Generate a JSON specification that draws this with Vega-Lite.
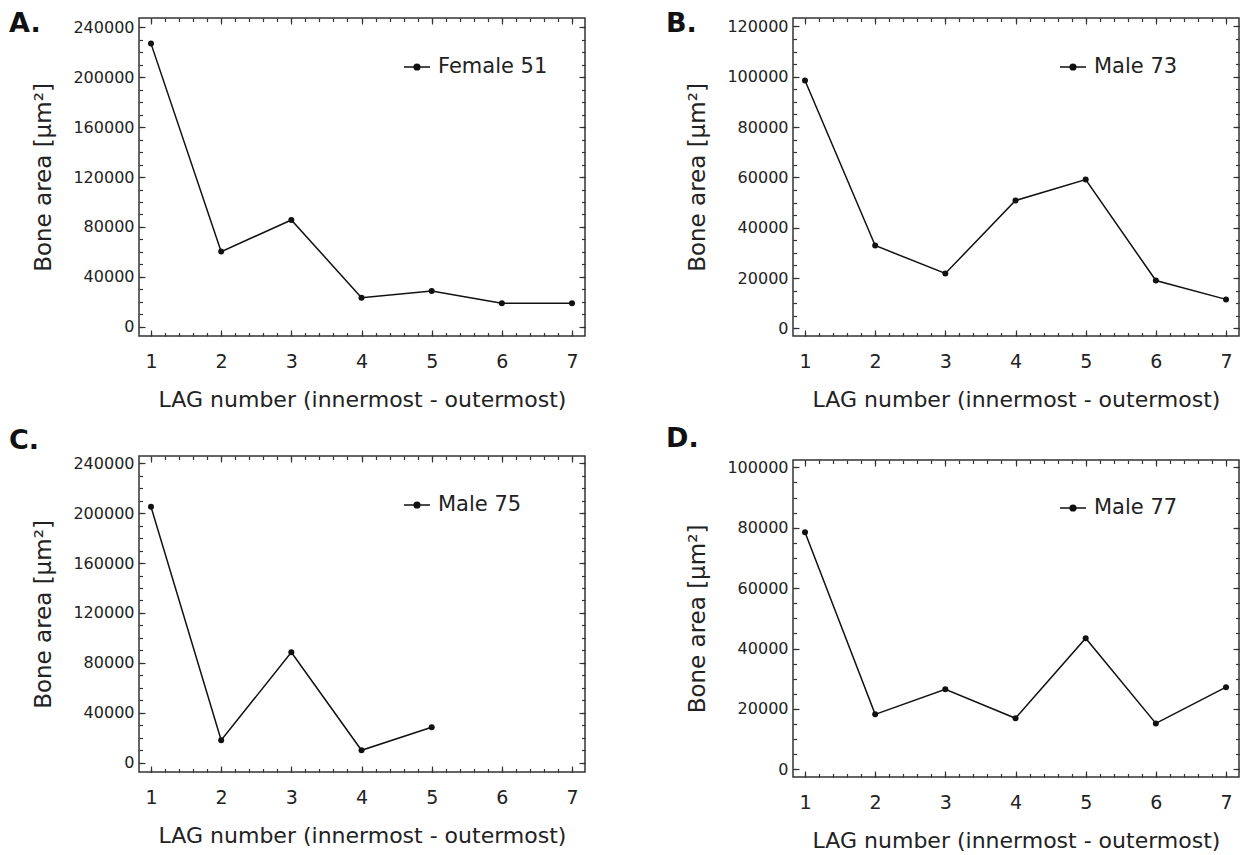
{
  "$schema": "https://vega.github.io/schema/vega-lite/v6.json",
  "background": "white",
  "padding": {"left": 8, "top": 9, "right": 5, "bottom": 5},
  "datasets": {
    "A": [
      {"lag": 1, "area": 227000, "series": "Female 51"},
      {"lag": 2, "area": 60200, "series": "Female 51"},
      {"lag": 3, "area": 85600, "series": "Female 51"},
      {"lag": 4, "area": 23300, "series": "Female 51"},
      {"lag": 5, "area": 28600, "series": "Female 51"},
      {"lag": 6, "area": 18800, "series": "Female 51"},
      {"lag": 7, "area": 18800, "series": "Female 51"}
    ],
    "B": [
      {"lag": 1, "area": 98500, "series": "Male 73"},
      {"lag": 2, "area": 32900, "series": "Male 73"},
      {"lag": 3, "area": 21800, "series": "Male 73"},
      {"lag": 4, "area": 50800, "series": "Male 73"},
      {"lag": 5, "area": 59100, "series": "Male 73"},
      {"lag": 6, "area": 19000, "series": "Male 73"},
      {"lag": 7, "area": 11500, "series": "Male 73"}
    ],
    "C": [
      {"lag": 1, "area": 205100, "series": "Male 75"},
      {"lag": 2, "area": 17900, "series": "Male 75"},
      {"lag": 3, "area": 88500, "series": "Male 75"},
      {"lag": 4, "area": 9900, "series": "Male 75"},
      {"lag": 5, "area": 28300, "series": "Male 75"}
    ],
    "D": [
      {"lag": 1, "area": 78500, "series": "Male 77"},
      {"lag": 2, "area": 18200, "series": "Male 77"},
      {"lag": 3, "area": 26500, "series": "Male 77"},
      {"lag": 4, "area": 16900, "series": "Male 77"},
      {"lag": 5, "area": 43400, "series": "Male 77"},
      {"lag": 6, "area": 15200, "series": "Male 77"},
      {"lag": 7, "area": 27200, "series": "Male 77"}
    ]
  },
  "spacing": 654,
  "bounds": "flush",
  "resolve": {"scale": {"color": "independent"}, "legend": {"color": "independent"}},
  "hconcat": [
    {
      "spacing": 120,
      "bounds": "flush",
      "resolve": {"scale": {"color": "independent"}, "legend": {"color": "independent"}},
      "vconcat": [
        {
          "title": {"text": "A.", "anchor": "start", "frame": "group", "orient": "top", "offset": 0, "baseline": "alphabetic", "dx": -130, "dy": 42},
          "width": 446, "height": 318,
          "data": {"name": "A"},
          "layer": [
            {"mark": {"type": "line", "strokeWidth": 1.5},
             "encoding": {
               "x": {"field": "lag", "type": "quantitative", "scale": {"domain": [0.829, 7.185], "nice": false, "zero": false},
                     "axis": {"orient": "bottom", "values": [1,2,3,4,5,6,7], "format": "d", "tickSize": -6, "labelPadding": 22, "labelFontSize": 19, "title": "LAG number (innermost - outermost)", "titleFontSize": 22, "titlePadding": 18}},
               "y": {"field": "area", "type": "quantitative", "scale": {"domain": [-7460, 247540], "nice": false, "zero": false},
                     "axis": {"orient": "left", "values": [0,40000,80000,120000,160000,200000,240000], "format": "d", "tickSize": -6, "labelPadding": 11, "labelFontSize": 16, "title": "Bone area [µm²]", "titleFontSize": 23, "titlePadding": 17}},
               "color": {"field": "series", "type": "nominal", "scale": {"range": ["#111111"]},
                         "legend": {"orient": "none", "legendX": 264, "legendY": 35}}
             }},
            {"mark": {"type": "point", "filled": true, "size": 36, "color": "#111111", "opacity": 1},
             "encoding": {
               "x": {"field": "lag", "type": "quantitative", "scale": {"domain": [0.829, 7.185], "nice": false, "zero": false},
                     "axis": {"orient": "bottom", "values": [1,1.2,1.4,1.6,1.8,2,2.2,2.4,2.6,2.8,3,3.2,3.4,3.6,3.8,4,4.2,4.4,4.6,4.8,5,5.2,5.4,5.6,5.8,6,6.2,6.4,6.6,6.8,7], "labels": false, "tickSize": -3.5, "title": null}},
               "y": {"field": "area", "type": "quantitative", "scale": {"domain": [-7460, 247540], "nice": false, "zero": false},
                     "axis": {"orient": "left", "values": [0,10000,20000,30000,40000,50000,60000,70000,80000,90000,100000,110000,120000,130000,140000,150000,160000,170000,180000,190000,200000,210000,220000,230000,240000], "labels": false, "tickSize": -3.5, "title": null}}
             }},
            {"mark": {"type": "point", "opacity": 0},
             "encoding": {
               "x": {"field": "lag", "type": "quantitative", "scale": {"domain": [0.829, 7.185], "nice": false, "zero": false},
                     "axis": {"orient": "top", "values": [1,2,3,4,5,6,7], "labels": false, "tickSize": -6, "title": null}},
               "y": {"field": "area", "type": "quantitative", "scale": {"domain": [-7460, 247540], "nice": false, "zero": false},
                     "axis": {"orient": "right", "values": [0,40000,80000,120000,160000,200000,240000], "labels": false, "tickSize": -6, "title": null}}
             }},
            {"mark": {"type": "point", "opacity": 0},
             "encoding": {
               "x": {"field": "lag", "type": "quantitative", "scale": {"domain": [0.829, 7.185], "nice": false, "zero": false},
                     "axis": {"orient": "top", "values": [1,1.2,1.4,1.6,1.8,2,2.2,2.4,2.6,2.8,3,3.2,3.4,3.6,3.8,4,4.2,4.4,4.6,4.8,5,5.2,5.4,5.6,5.8,6,6.2,6.4,6.6,6.8,7], "labels": false, "tickSize": -3.5, "title": null}},
               "y": {"field": "area", "type": "quantitative", "scale": {"domain": [-7460, 247540], "nice": false, "zero": false},
                     "axis": {"orient": "right", "values": [0,10000,20000,30000,40000,50000,60000,70000,80000,90000,100000,110000,120000,130000,140000,150000,160000,170000,180000,190000,200000,210000,220000,230000,240000], "labels": false, "tickSize": -3.5, "title": null}}
             }}
          ],
          "resolve": {"axis": {"x": "independent", "y": "independent"}}
        },
        {
          "title": {"text": "C.", "anchor": "start", "frame": "group", "orient": "top", "offset": 0, "baseline": "alphabetic", "dx": -130, "dy": 21},
          "width": 446, "height": 316,
          "data": {"name": "C"},
          "layer": [
            {"mark": {"type": "line", "strokeWidth": 1.5},
             "encoding": {
               "x": {"field": "lag", "type": "quantitative", "scale": {"domain": [0.829, 7.185], "nice": false, "zero": false},
                     "axis": {"orient": "bottom", "values": [1,2,3,4,5,6,7], "format": "d", "tickSize": -6, "labelPadding": 22, "labelFontSize": 19, "title": "LAG number (innermost - outermost)", "titleFontSize": 22, "titlePadding": 18}},
               "y": {"field": "area", "type": "quantitative", "scale": {"domain": [-7540, 245860], "nice": false, "zero": false},
                     "axis": {"orient": "left", "values": [0,40000,80000,120000,160000,200000,240000], "format": "d", "tickSize": -6, "labelPadding": 11, "labelFontSize": 16, "title": "Bone area [µm²]", "titleFontSize": 23, "titlePadding": 17}},
               "color": {"field": "series", "type": "nominal", "scale": {"range": ["#111111"]},
                         "legend": {"orient": "none", "legendX": 264, "legendY": 35}}
             }},
            {"mark": {"type": "point", "filled": true, "size": 36, "color": "#111111", "opacity": 1},
             "encoding": {
               "x": {"field": "lag", "type": "quantitative", "scale": {"domain": [0.829, 7.185], "nice": false, "zero": false},
                     "axis": {"orient": "bottom", "values": [1,1.2,1.4,1.6,1.8,2,2.2,2.4,2.6,2.8,3,3.2,3.4,3.6,3.8,4,4.2,4.4,4.6,4.8,5,5.2,5.4,5.6,5.8,6,6.2,6.4,6.6,6.8,7], "labels": false, "tickSize": -3.5, "title": null}},
               "y": {"field": "area", "type": "quantitative", "scale": {"domain": [-7540, 245860], "nice": false, "zero": false},
                     "axis": {"orient": "left", "values": [0,10000,20000,30000,40000,50000,60000,70000,80000,90000,100000,110000,120000,130000,140000,150000,160000,170000,180000,190000,200000,210000,220000,230000,240000], "labels": false, "tickSize": -3.5, "title": null}}
             }},
            {"mark": {"type": "point", "opacity": 0},
             "encoding": {
               "x": {"field": "lag", "type": "quantitative", "scale": {"domain": [0.829, 7.185], "nice": false, "zero": false},
                     "axis": {"orient": "top", "values": [1,2,3,4,5,6,7], "labels": false, "tickSize": -6, "title": null}},
               "y": {"field": "area", "type": "quantitative", "scale": {"domain": [-7540, 245860], "nice": false, "zero": false},
                     "axis": {"orient": "right", "values": [0,40000,80000,120000,160000,200000,240000], "labels": false, "tickSize": -6, "title": null}}
             }},
            {"mark": {"type": "point", "opacity": 0},
             "encoding": {
               "x": {"field": "lag", "type": "quantitative", "scale": {"domain": [0.829, 7.185], "nice": false, "zero": false},
                     "axis": {"orient": "top", "values": [1,1.2,1.4,1.6,1.8,2,2.2,2.4,2.6,2.8,3,3.2,3.4,3.6,3.8,4,4.2,4.4,4.6,4.8,5,5.2,5.4,5.6,5.8,6,6.2,6.4,6.6,6.8,7], "labels": false, "tickSize": -3.5, "title": null}},
               "y": {"field": "area", "type": "quantitative", "scale": {"domain": [-7540, 245860], "nice": false, "zero": false},
                     "axis": {"orient": "right", "values": [0,10000,20000,30000,40000,50000,60000,70000,80000,90000,100000,110000,120000,130000,140000,150000,160000,170000,180000,190000,200000,210000,220000,230000,240000], "labels": false, "tickSize": -3.5, "title": null}}
             }}
          ],
          "resolve": {"axis": {"x": "independent", "y": "independent"}}
        }
      ]
    },
    {
      "spacing": 124,
      "bounds": "flush",
      "resolve": {"scale": {"color": "independent"}, "legend": {"color": "independent"}},
      "vconcat": [
        {
          "title": {"text": "B.", "anchor": "start", "frame": "group", "orient": "top", "offset": 0, "baseline": "alphabetic", "dx": -127, "dy": 42},
          "width": 446, "height": 318,
          "data": {"name": "B"},
          "layer": [
            {"mark": {"type": "line", "strokeWidth": 1.5},
             "encoding": {
               "x": {"field": "lag", "type": "quantitative", "scale": {"domain": [0.829, 7.185], "nice": false, "zero": false},
                     "axis": {"orient": "bottom", "values": [1,2,3,4,5,6,7], "format": "d", "tickSize": -6, "labelPadding": 22, "labelFontSize": 19, "title": "LAG number (innermost - outermost)", "titleFontSize": 22, "titlePadding": 18}},
               "y": {"field": "area", "type": "quantitative", "scale": {"domain": [-3050, 123330], "nice": false, "zero": false},
                     "axis": {"orient": "left", "values": [0,20000,40000,60000,80000,100000,120000], "format": "d", "tickSize": -6, "labelPadding": 11, "labelFontSize": 16, "title": "Bone area [µm²]", "titleFontSize": 23, "titlePadding": 17}},
               "color": {"field": "series", "type": "nominal", "scale": {"range": ["#111111"]},
                         "legend": {"orient": "none", "legendX": 266, "legendY": 35}}
             }},
            {"mark": {"type": "point", "filled": true, "size": 36, "color": "#111111", "opacity": 1},
             "encoding": {
               "x": {"field": "lag", "type": "quantitative", "scale": {"domain": [0.829, 7.185], "nice": false, "zero": false},
                     "axis": {"orient": "bottom", "values": [1,1.2,1.4,1.6,1.8,2,2.2,2.4,2.6,2.8,3,3.2,3.4,3.6,3.8,4,4.2,4.4,4.6,4.8,5,5.2,5.4,5.6,5.8,6,6.2,6.4,6.6,6.8,7], "labels": false, "tickSize": -3.5, "title": null}},
               "y": {"field": "area", "type": "quantitative", "scale": {"domain": [-3050, 123330], "nice": false, "zero": false},
                     "axis": {"orient": "left", "values": [0,5000,10000,15000,20000,25000,30000,35000,40000,45000,50000,55000,60000,65000,70000,75000,80000,85000,90000,95000,100000,105000,110000,115000,120000], "labels": false, "tickSize": -3.5, "title": null}}
             }},
            {"mark": {"type": "point", "opacity": 0},
             "encoding": {
               "x": {"field": "lag", "type": "quantitative", "scale": {"domain": [0.829, 7.185], "nice": false, "zero": false},
                     "axis": {"orient": "top", "values": [1,2,3,4,5,6,7], "labels": false, "tickSize": -6, "title": null}},
               "y": {"field": "area", "type": "quantitative", "scale": {"domain": [-3050, 123330], "nice": false, "zero": false},
                     "axis": {"orient": "right", "values": [0,20000,40000,60000,80000,100000,120000], "labels": false, "tickSize": -6, "title": null}}
             }},
            {"mark": {"type": "point", "opacity": 0},
             "encoding": {
               "x": {"field": "lag", "type": "quantitative", "scale": {"domain": [0.829, 7.185], "nice": false, "zero": false},
                     "axis": {"orient": "top", "values": [1,1.2,1.4,1.6,1.8,2,2.2,2.4,2.6,2.8,3,3.2,3.4,3.6,3.8,4,4.2,4.4,4.6,4.8,5,5.2,5.4,5.6,5.8,6,6.2,6.4,6.6,6.8,7], "labels": false, "tickSize": -3.5, "title": null}},
               "y": {"field": "area", "type": "quantitative", "scale": {"domain": [-3050, 123330], "nice": false, "zero": false},
                     "axis": {"orient": "right", "values": [0,5000,10000,15000,20000,25000,30000,35000,40000,45000,50000,55000,60000,65000,70000,75000,80000,85000,90000,95000,100000,105000,110000,115000,120000], "labels": false, "tickSize": -3.5, "title": null}}
             }}
          ],
          "resolve": {"axis": {"x": "independent", "y": "independent"}}
        },
        {
          "title": {"text": "D.", "anchor": "start", "frame": "group", "orient": "top", "offset": 0, "baseline": "alphabetic", "dx": -127, "dy": 15},
          "width": 446, "height": 317,
          "data": {"name": "D"},
          "layer": [
            {"mark": {"type": "line", "strokeWidth": 1.5},
             "encoding": {
               "x": {"field": "lag", "type": "quantitative", "scale": {"domain": [0.829, 7.185], "nice": false, "zero": false},
                     "axis": {"orient": "bottom", "values": [1,2,3,4,5,6,7], "format": "d", "tickSize": -6, "labelPadding": 22, "labelFontSize": 19, "title": "LAG number (innermost - outermost)", "titleFontSize": 22, "titlePadding": 18}},
               "y": {"field": "area", "type": "quantitative", "scale": {"domain": [-2550, 102420], "nice": false, "zero": false},
                     "axis": {"orient": "left", "values": [0,20000,40000,60000,80000,100000], "format": "d", "tickSize": -6, "labelPadding": 11, "labelFontSize": 16, "title": "Bone area [µm²]", "titleFontSize": 23, "titlePadding": 17}},
               "color": {"field": "series", "type": "nominal", "scale": {"range": ["#111111"]},
                         "legend": {"orient": "none", "legendX": 266, "legendY": 34}}
             }},
            {"mark": {"type": "point", "filled": true, "size": 36, "color": "#111111", "opacity": 1},
             "encoding": {
               "x": {"field": "lag", "type": "quantitative", "scale": {"domain": [0.829, 7.185], "nice": false, "zero": false},
                     "axis": {"orient": "bottom", "values": [1,1.2,1.4,1.6,1.8,2,2.2,2.4,2.6,2.8,3,3.2,3.4,3.6,3.8,4,4.2,4.4,4.6,4.8,5,5.2,5.4,5.6,5.8,6,6.2,6.4,6.6,6.8,7], "labels": false, "tickSize": -3.5, "title": null}},
               "y": {"field": "area", "type": "quantitative", "scale": {"domain": [-2550, 102420], "nice": false, "zero": false},
                     "axis": {"orient": "left", "values": [0,5000,10000,15000,20000,25000,30000,35000,40000,45000,50000,55000,60000,65000,70000,75000,80000,85000,90000,95000,100000], "labels": false, "tickSize": -3.5, "title": null}}
             }},
            {"mark": {"type": "point", "opacity": 0},
             "encoding": {
               "x": {"field": "lag", "type": "quantitative", "scale": {"domain": [0.829, 7.185], "nice": false, "zero": false},
                     "axis": {"orient": "top", "values": [1,2,3,4,5,6,7], "labels": false, "tickSize": -6, "title": null}},
               "y": {"field": "area", "type": "quantitative", "scale": {"domain": [-2550, 102420], "nice": false, "zero": false},
                     "axis": {"orient": "right", "values": [0,20000,40000,60000,80000,100000], "labels": false, "tickSize": -6, "title": null}}
             }},
            {"mark": {"type": "point", "opacity": 0},
             "encoding": {
               "x": {"field": "lag", "type": "quantitative", "scale": {"domain": [0.829, 7.185], "nice": false, "zero": false},
                     "axis": {"orient": "top", "values": [1,1.2,1.4,1.6,1.8,2,2.2,2.4,2.6,2.8,3,3.2,3.4,3.6,3.8,4,4.2,4.4,4.6,4.8,5,5.2,5.4,5.6,5.8,6,6.2,6.4,6.6,6.8,7], "labels": false, "tickSize": -3.5, "title": null}},
               "y": {"field": "area", "type": "quantitative", "scale": {"domain": [-2550, 102420], "nice": false, "zero": false},
                     "axis": {"orient": "right", "values": [0,5000,10000,15000,20000,25000,30000,35000,40000,45000,50000,55000,60000,65000,70000,75000,80000,85000,90000,95000,100000], "labels": false, "tickSize": -3.5, "title": null}}
             }}
          ],
          "resolve": {"axis": {"x": "independent", "y": "independent"}}
        }
      ]
    }
  ],
  "config": {
    "view": {"stroke": "#333333", "strokeWidth": 1.5},
    "axis": {"grid": false, "domain": false, "labelFont": "DejaVu Sans", "titleFont": "DejaVu Sans", "labelColor": "#222222", "titleColor": "#222222", "titleFontWeight": "normal", "tickColor": "#333333", "tickWidth": 1.2, "labelFlush": false, "labelOverlap": false, "labelBound": false},
    "legend": {"title": null, "symbolType": "M-1,0H1M-0.22,0A0.22,0.22,0,1,0,0.22,0A0.22,0.22,0,1,0,-0.22,0Z", "symbolSize": 676, "symbolStrokeWidth": 1.5, "symbolFillColor": "#111111", "symbolStrokeColor": "#111111", "labelFont": "DejaVu Sans", "labelFontSize": 21, "labelColor": "#222222", "labelOffset": 7, "padding": 0},
    "title": {"font": "DejaVu Sans", "fontSize": 27, "fontWeight": "bold", "color": "#111111"}
  }
}
